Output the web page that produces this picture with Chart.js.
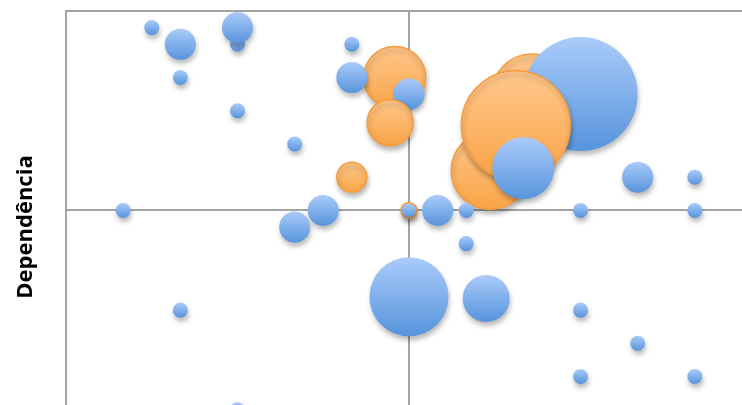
<!DOCTYPE html>
<html>
<head>
<meta charset="utf-8">
<script src="https://cdn.jsdelivr.net/npm/chart.js@4/dist/chart.umd.min.js"></script>
<style>
  html, body { margin: 0; padding: 0; background: #ffffff; }
  #wrap { width: 742px; height: 405px; overflow: hidden; position: relative; }
  #c { display: block; }
</style>
</head>
<body>
<div id="wrap"><canvas id="c" width="752" height="443"></canvas></div>
<script>
// ---- data (x, y, bubble radius) ----
const axisTitleY = 'Dependência';

// blue bubbles drawn beneath the front orange ones
const blueMainX = [-4.5, -4, -3, -3, -4, -3, -2, -1, -1, 0, 3, 4, 5, -5, -1.5, -2, 0, 0.5, 1, 3, 5, 1, 0, 1.35, -4, 3, 4, 3, 5, -3];
const blueMainY = [5.5, 5, 5, 5.5, 4, 3, 2, 5, 4, 3.5, 3.5, 1, 1, 0, 0, -0.5, 0, 0, 0, 0, 0, -1, -2.6, -2.65, -3, -3, -4, -5, -5, -6];
const blueMainR = [7.5, 15.5, 7.5, 15.5, 7.5, 7.5, 7.5, 7.5, 15.5, 15.5, 57, 15.5, 7.5, 7.5, 15.5, 15.5, 7, 15.5, 7.5, 7.5, 7.5, 7.5, 39.5, 23.5, 7.5, 7.5, 7.5, 7.5, 7.5, 7.5];

// blue bubble on top of everything
const blueFrontX = [2];
const blueFrontY = [1.27];
const blueFrontR = [31];

// orange bubbles behind the blue ones
const orangeBackX = [2.15, -0.25, 0, 1.42];
const orangeBackY = [3.5, 4, 0, 1.2];
const orangeBackR = [40, 31, 8, 39];

// orange bubbles in front of the blue ones
const orangeFrontX = [1.87, -0.33, -1];
const orangeFrontY = [2.56, 2.64, 1];
const orangeFrontR = [54.5, 23, 15];

// axis ranges
const xMin = -6, xMax = 6;
const yMin = -7, yMax = 6;

function pts(xs, ys, rs) { return xs.map((x, i) => ({ x: x, y: ys[i], r: rs[i] })); }

function gradient(c1, c2) {
  return function (ctx) {
    const chart = ctx.chart, raw = ctx.raw;
    if (!raw || !chart.chartArea || !chart.scales.y) return c2;
    const py = chart.scales.y.getPixelForValue(raw.y);
    const g = chart.ctx.createLinearGradient(0, py - raw.r, 0, py + raw.r);
    g.addColorStop(0, c1);
    g.addColorStop(1, c2);
    return g;
  };
}

const blueFill = gradient('#aacbfa', '#5794dc');
const orangeFill = gradient('#fec78c', '#f9a447');

const shadowPlugin = {
  id: 'bubbleShadow',
  beforeDatasetDraw(chart) {
    const c = chart.ctx;
    c.save();
    c.shadowColor = 'rgba(0,0,0,0.27)';
    c.shadowBlur = 5;
    c.shadowOffsetX = 1;
    c.shadowOffsetY = 4;
  },
  afterDatasetDraw(chart) { chart.ctx.restore(); }
};

const gridCol = '#a3a3a3';

new Chart(document.getElementById('c'), {
  type: 'bubble',
  data: {
    datasets: [
      { label: 'B', data: pts(orangeBackX, orangeBackY, orangeBackR), backgroundColor: orangeFill, borderColor: '#f69c3c', borderWidth: 1.5, order: 4 },
      { label: 'A', data: pts(blueMainX, blueMainY, blueMainR), backgroundColor: blueFill, borderWidth: 0, order: 3 },
      { label: 'B', data: pts(orangeFrontX, orangeFrontY, orangeFrontR), backgroundColor: orangeFill, borderColor: '#f69c3c', borderWidth: 1.5, order: 2 },
      { label: 'A', data: pts(blueFrontX, blueFrontY, blueFrontR), backgroundColor: blueFill, borderWidth: 0, order: 1 }
    ]
  },
  options: {
    responsive: false,
    animation: false,
    events: [],
    layout: { padding: 0, autoPadding: false },
    plugins: { legend: { display: false }, tooltip: { enabled: false } },
    scales: {
      x: {
        type: 'linear', position: 'top', min: xMin, max: xMax,
        ticks: { display: false, stepSize: 1 },
        grid: { drawTicks: false, lineWidth: 2, color: c => (c.tick && c.tick.value === 0) ? gridCol : 'rgba(0,0,0,0)' },
        border: { display: true, color: gridCol, width: 2 },
        afterFit: s => { s.height = 11; }
      },
      y: {
        type: 'linear', position: 'left', min: yMin, max: yMax,
        ticks: { display: false, stepSize: 1 },
        grid: { drawTicks: false, lineWidth: 2, color: c => (c.tick && c.tick.value === 0) ? gridCol : 'rgba(0,0,0,0)' },
        border: { display: true, color: gridCol, width: 2 },
        title: { display: true, text: axisTitleY, color: '#000000', font: { family: 'Open Sans', weight: 'bold', size: 22 }, padding: { top: 13, bottom: 0 } },
        afterFit: s => { s.width = 66; }
      }
    }
  },
  plugins: [shadowPlugin]
});
</script>
</body>
</html>
